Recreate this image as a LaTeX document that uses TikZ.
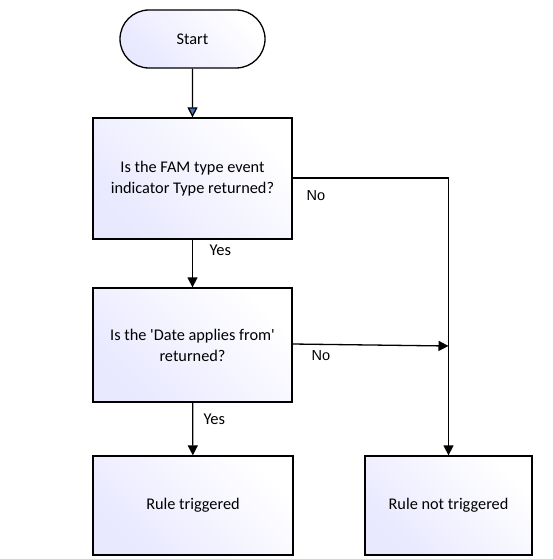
\documentclass[tikz,border=0pt]{standalone}
\usepackage{fontspec}
\setmainfont{Carlito}
\newfontfamily\arialf{Liberation Sans}
\usetikzlibrary{arrows.meta,shapes.misc}
\begin{document}
\begin{tikzpicture}[x=1pt,y=-1pt,
  boxfill/.style={draw=black, line width=1.3pt, shading=axis, left color=blue!9!white, right color=white, shading angle=135},
  procbox/.style={boxfill, rectangle, inner sep=0pt, align=center, font=\fontsize{16.3}{19}\selectfont},
  termbox/.style={boxfill, rounded rectangle, inner sep=0pt, font=\fontsize{16.3}{19}\selectfont},
  conn/.style={draw=black, line width=1.3pt},
  tip/.style={-{Triangle[length=10pt,width=10pt]}},
  bluetip/.style={-{Triangle[length=10pt,width=10pt,fill={rgb,255:red,68;green,114;blue,196}]}},
  lblyes/.style={font=\fontsize{16.5}{19}\selectfont, anchor=west},
  lblno/.style={font=\arialf\fontsize{14.5}{17}\selectfont, anchor=west}
]
\useasboundingbox (0,0) rectangle (552,559);
\node[termbox, minimum width=145pt, minimum height=58pt] (start) at (192.5,39) {Start};
\node[procbox, minimum width=199pt, minimum height=121pt] (q1) at (192.5,178.5) {Is the FAM type event\\[2pt]indicator Type returned?};
\node[procbox, minimum width=199pt, minimum height=114pt] (q2) at (192.5,345) {Is the \textquotesingle Date applies from\textquotesingle\\[2pt]returned?};
\node[procbox, minimum width=200pt, minimum height=99pt] (r1) at (193,505.5) {Rule triggered};
\node[procbox, minimum width=167pt, minimum height=99pt] (r2) at (448.5,505.5) {Rule not triggered};
\coordinate (c1) at (448.5,178);
\coordinate (c2) at (448.5,346);
\draw[conn, bluetip] (start) -- (q1);
\draw[conn, tip] (q1) -- (q2);
\draw[conn, tip] (q2) -- (r1);
\draw[conn, tip] (q1.east |- c1) -- (c1) -- (r2.north);
\draw[conn, tip] (292,344) -- (c2);
\node[lblno] (no1) at (303,196) {No};
\node[lblno] (no2) at (308,356) {No};
\node[lblyes] (yes1) at (206,250) {Yes};
\node[lblyes] (yes2) at (200,419) {Yes};
\end{tikzpicture}
\end{document}
